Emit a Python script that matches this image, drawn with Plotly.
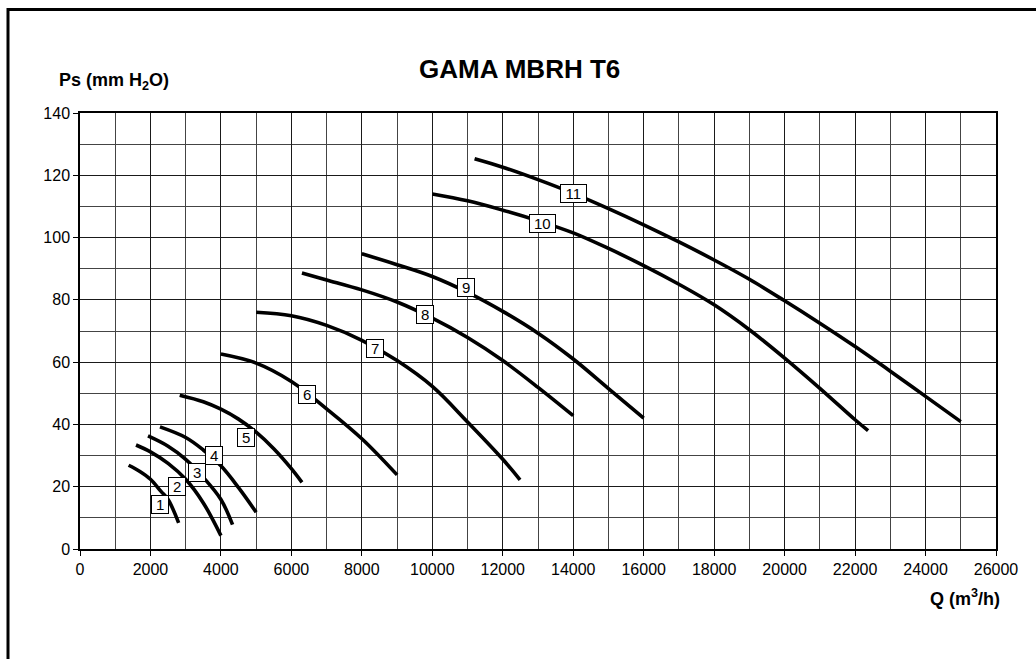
import plotly.graph_objects as go

# ---- data ----
c1_x = [1380, 1700, 2000, 2300, 2500, 2800]
c1_y = [26.9, 24.9, 22.4, 18.5, 15.9, 8.4]

c2_x = [1590, 2000, 2500, 3000, 3500, 4000]
c2_y = [33.4, 31.2, 27.5, 22.4, 14.8, 4.3]

c3_x = [1930, 2500, 3000, 3500, 4000, 4330]
c3_y = [36.3, 33.0, 28.8, 23.0, 15.9, 7.8]

c4_x = [2270, 3000, 3500, 4000, 4500, 5000]
c4_y = [39.2, 35.8, 31.8, 26.7, 19.7, 11.8]

c5_x = [2830, 3500, 4000, 4500, 5000, 5500, 6000, 6300]
c5_y = [49.4, 47.3, 44.9, 41.7, 37.5, 32.2, 25.8, 21.4]

c6_x = [4000, 5000, 6000, 7000, 8000, 9000]
c6_y = [62.6, 59.7, 53.8, 45.0, 35.4, 23.8]

c7_x = [5000, 6000, 7000, 8000, 9000, 10000, 11000, 12000, 12490]
c7_y = [76.0, 74.9, 71.8, 67.0, 60.5, 52.2, 40.8, 28.8, 22.2]

c8_x = [6300, 7000, 8000, 9000, 10000, 11000, 12000, 13000, 14000]
c8_y = [88.6, 86.4, 83.2, 79.3, 74.1, 67.9, 60.5, 51.9, 42.8]

c9_x = [8000, 9000, 10000, 11000, 12000, 13000, 14000, 15000, 16000]
c9_y = [94.8, 91.3, 87.5, 82.4, 76.3, 69.3, 61.0, 51.5, 42.0]

c10_x = [10000, 11000, 12000, 13000, 14000, 15000, 16000, 17000, 18000, 19000, 20000, 21000, 22000, 22370]
c10_y = [114.0, 111.8, 108.8, 105.4, 101.5, 96.5, 91.0, 85.0, 78.4, 70.4, 61.3, 51.6, 41.5, 38.0]

c11_x = [11200, 12000, 13000, 14000, 15000, 16000, 17000, 18000, 19000, 20000, 21000, 22000, 23000, 24000, 25000]
c11_y = [125.3, 122.6, 118.6, 114.2, 109.3, 104.1, 98.6, 92.8, 86.6, 79.7, 72.5, 65.0, 57.1, 49.0, 40.9]

curve_names = ["1", "2", "3", "4", "5", "6", "7", "8", "9", "10", "11"]
curves_x = [c1_x, c2_x, c3_x, c4_x, c5_x, c6_x, c7_x, c8_x, c9_x, c10_x, c11_x]
curves_y = [c1_y, c2_y, c3_y, c4_y, c5_y, c6_y, c7_y, c8_y, c9_y, c10_y, c11_y]

label_x = [2270, 2762, 3311, 3803, 4711, 6440, 8378, 9796, 10950, 13133, 14000]
label_y = [14.3, 20.2, 24.5, 30.1, 35.8, 49.5, 64.3, 75.4, 84.0, 104.4, 114.0]

x_ticks = list(range(0, 26001, 2000))
x_tick_text = [str(v) for v in x_ticks]
y_ticks = list(range(0, 141, 20))
y_tick_text = [str(v) for v in y_ticks]

title_text = "GAMA MBRH T6"
y_title = "Ps (mm H<sub>2</sub>O)"
x_title = "Q (m<sup>3</sup>/h)"

FONT = "Liberation Sans, Arial, sans-serif"

# plot-area pixel geometry helpers
L, R, T, B = 80, 40, 113, 110
PW, PH = 1036 - L - R, 659 - T - B


def px_x(px):
    return (px - L) / PW


def px_y(py):
    return (659 - B - py) / PH


fig = go.Figure()
for name, xs, ys in zip(curve_names, curves_x, curves_y):
    fig.add_trace(go.Scatter(x=xs, y=ys, mode="lines", name=name,
                             line=dict(color="black", width=3.6, shape="spline", smoothing=1.0),
                             showlegend=False, hoverinfo="skip"))

for name, lx, ly in zip(curve_names, label_x, label_y):
    fig.add_annotation(x=lx, y=ly, text=name, showarrow=False,
                       width=len(name) * 8.3 + 6, height=15,
                       font=dict(family=FONT, size=15, color="black"),
                       bgcolor="white", bordercolor="black", borderwidth=1, borderpad=1)

fig.add_annotation(x=px_x(519), y=px_y(69), xref="paper", yref="paper",
                   xanchor="center", yanchor="middle", text="<b>" + title_text + "</b>",
                   showarrow=False, font=dict(family=FONT, size=26, color="black"))
fig.add_annotation(x=px_x(57), y=px_y(82), xref="paper", yref="paper",
                   xanchor="left", yanchor="middle", text="<b>" + y_title + "</b>", showarrow=False,
                   font=dict(family=FONT, size=18, color="black"))
fig.add_annotation(x=px_x(1002), y=px_y(597), xref="paper", yref="paper",
                   xanchor="right", yanchor="middle", text="<b>" + x_title + "</b>", showarrow=False,
                   font=dict(family=FONT, size=18, color="black"))

fig.update_layout(
    width=1036, height=659,
    margin=dict(l=L, r=R, t=T, b=B),
    paper_bgcolor="white", plot_bgcolor="white",
    font=dict(family=FONT, size=16, color="black"),
    showlegend=False,
    xaxis=dict(range=[0, 26000], tickvals=x_ticks, ticktext=x_tick_text, ticks="outside", ticklen=5,
               tickcolor="black", showgrid=True, gridcolor="#1a1a1a", gridwidth=1,
               minor=dict(dtick=1000, tick0=0, showgrid=True, gridcolor="#444", gridwidth=1),
               showline=True, linecolor="black", linewidth=1.5, mirror=True, zeroline=False,
               tickfont=dict(family=FONT, size=16, color="black")),
    yaxis=dict(range=[0, 140], tickvals=y_ticks, ticktext=y_tick_text, ticks="outside", ticklen=5,
               tickcolor="black", showgrid=True, gridcolor="#1a1a1a", gridwidth=1,
               minor=dict(dtick=10, tick0=0, showgrid=True, gridcolor="#444", gridwidth=1),
               showline=True, linecolor="black", linewidth=1.5, mirror=True, zeroline=False,
               tickfont=dict(family=FONT, size=16, color="black")),
    shapes=[dict(type="rect", xref="paper", yref="paper",
                 x0=px_x(8), x1=px_x(1300), y0=px_y(900), y1=px_y(9.5),
                 line=dict(color="black", width=3), fillcolor="rgba(0,0,0,0)", layer="above")],
)

fig.write_html("out.html", config={"displayModeBar": False},
               post_script="document.body.style.margin='0px';")
